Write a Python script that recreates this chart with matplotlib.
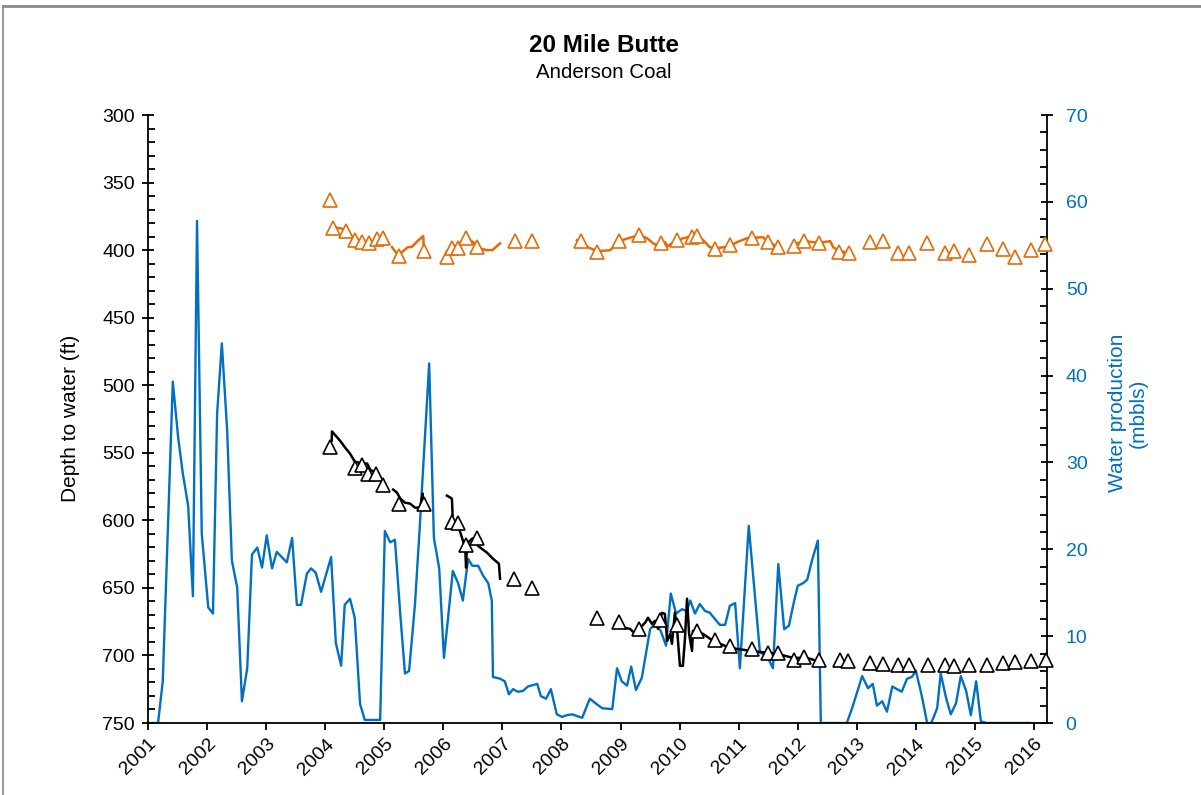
import matplotlib
matplotlib.use("Agg")
import matplotlib.pyplot as plt
from matplotlib.lines import Line2D
from matplotlib.ticker import MultipleLocator
import numpy as np

plt.rcParams['font.family'] = ['Liberation Sans', 'DejaVu Sans']

# ---------------- data ----------------
title = "20 Mile Butte"
subtitle = "Anderson Coal"
year_ticks = list(range(2001, 2017))

# water production (mbbls), right axis
water_year = [2001.03, 2001.17, 2001.25, 2001.42, 2001.51, 2001.59, 2001.68, 2001.76, 2001.83, 2001.91,
              2002.02, 2002.10, 2002.17, 2002.25, 2002.34, 2002.42, 2002.51, 2002.59, 2002.68, 2002.76,
              2002.85, 2002.93, 2003.01, 2003.10, 2003.18, 2003.35, 2003.44, 2003.52, 2003.59, 2003.69,
              2003.76, 2003.84, 2003.93, 2004.10, 2004.18, 2004.27, 2004.33, 2004.42, 2004.50, 2004.59,
              2004.67, 2004.93, 2005.01, 2005.10, 2005.18, 2005.27, 2005.35, 2005.42, 2005.52, 2005.60,
              2005.76, 2005.84, 2005.93, 2006.01, 2006.08, 2006.16, 2006.25, 2006.33, 2006.42, 2006.49,
              2006.59, 2006.67, 2006.76, 2006.82, 2006.84, 2006.96, 2007.04, 2007.11, 2007.18, 2007.26,
              2007.35, 2007.43, 2007.59, 2007.65, 2007.74, 2007.82, 2007.92, 2008.01, 2008.09, 2008.18,
              2008.26, 2008.35, 2008.48, 2008.57, 2008.69, 2008.86, 2008.94, 2009.02, 2009.11, 2009.18,
              2009.26, 2009.36, 2009.50, 2009.58, 2009.68, 2009.77, 2009.85, 2009.94, 2010.04, 2010.12,
              2010.18, 2010.26, 2010.34, 2010.43, 2010.51, 2010.68, 2010.77, 2010.85, 2010.94, 2011.02,
              2011.17, 2011.36, 2011.48, 2011.58, 2011.67, 2011.77, 2011.85, 2011.94, 2012.00, 2012.09,
              2012.16, 2012.24, 2012.34, 2012.39, 2012.43, 2012.83, 2012.92, 2013.09, 2013.19, 2013.27,
              2013.34, 2013.43, 2013.51, 2013.60, 2013.68, 2013.76, 2013.85, 2013.93, 2014.00, 2014.10,
              2014.19, 2014.26, 2014.36, 2014.42, 2014.51, 2014.59, 2014.68, 2014.76, 2014.85, 2014.93,
              2015.02, 2015.10, 2015.19, 2015.93]
water_mbbls = [0.0, 0.0, 4.8, 39.3, 32.9, 28.7, 25.0, 14.6, 57.8, 21.8,
               13.3, 12.6, 35.6, 43.7, 33.7, 18.7, 15.6, 2.5, 6.3, 19.4,
               20.2, 17.9, 21.6, 17.8, 19.7, 18.5, 21.3, 13.6, 13.6, 17.2,
               17.8, 17.3, 15.1, 19.1, 9.2, 6.6, 13.6, 14.3, 12.1, 2.2,
               0.35, 0.35, 22.1, 20.8, 21.1, 12.6, 5.7, 6.0, 13.7, 22.5,
               41.4, 21.3, 17.8, 7.5, 12.1, 17.5, 16.1, 14.1, 18.9, 18.1,
               18.1, 17.0, 16.1, 14.1, 5.3, 5.1, 4.8, 3.3, 3.9, 3.6,
               3.7, 4.2, 4.5, 3.1, 2.8, 3.9, 1.0, 0.7, 0.9, 1.0,
               0.8, 0.6, 2.8, 2.3, 1.7, 1.6, 6.3, 4.8, 4.3, 6.5,
               3.8, 5.2, 10.8, 11.4, 10.6, 8.9, 14.9, 12.6, 13.1, 12.9,
               14.1, 12.6, 13.7, 12.9, 12.7, 11.3, 11.3, 13.5, 13.8, 6.3,
               22.7, 8.1, 7.7, 6.3, 18.3, 10.8, 11.2, 14.1, 15.8, 16.1,
               16.5, 18.7, 21.0, 0.0, 0.0, 0.0, 1.7, 5.4, 4.0, 4.5,
               2.0, 2.5, 1.3, 4.2, 3.9, 3.6, 5.1, 5.3, 6.0, 3.1,
               0.0, 0.0, 1.7, 5.7, 2.9, 1.0, 2.3, 5.4, 3.7, 0.9,
               4.8, 0.2, 0.0, 0.0]

# orange well: manual measurements (triangles)
orange_pt_year = [2004.08, 2004.13, 2004.35, 2004.50, 2004.62, 2004.74, 2004.88, 2004.98, 2005.25, 2005.67,
                  2006.06, 2006.15, 2006.25, 2006.38, 2006.57, 2007.21, 2007.50, 2008.33, 2008.60, 2008.97,
                  2009.31, 2009.68, 2009.96, 2010.21, 2010.29, 2010.60, 2010.85, 2011.23, 2011.50, 2011.67,
                  2011.94, 2012.11, 2012.36, 2012.70, 2012.87, 2013.22, 2013.44, 2013.70, 2013.88, 2014.19,
                  2014.49, 2014.65, 2014.90, 2015.20, 2015.47, 2015.68, 2015.95, 2016.19]
orange_pt_depth = [363.0, 383.8, 386.0, 392.7, 394.1, 394.9, 391.9, 391.2, 404.5, 400.8,
                   405.3, 398.6, 398.6, 391.2, 397.9, 393.4, 393.4, 393.4, 401.6, 393.4,
                   389.0, 394.9, 392.7, 390.4, 389.7, 399.3, 396.4, 391.2, 394.1, 397.9,
                   397.1, 393.4, 394.9, 401.6, 402.3, 394.1, 393.4, 402.3, 402.3, 394.9,
                   402.3, 400.8, 403.8, 395.6, 399.3, 405.3, 400.1, 395.6]

# orange well: logger records (line segments)
orange_seg1_year = [2004.13, 2004.25, 2004.32, 2004.39, 2004.47, 2004.59, 2004.67, 2004.76, 2004.88, 2004.98]
orange_seg1_depth = [383.0, 383.8, 384.5, 387.5, 390.4, 394.9, 394.1, 394.9, 393.4, 392.7]
orange_seg2_year = [2005.13, 2005.24, 2005.39, 2005.47, 2005.57, 2005.66, 2005.67]
orange_seg2_depth = [397.8, 404.0, 398.0, 397.5, 393.0, 389.6, 400.0]
orange_seg3_year = [2006.06, 2006.14, 2006.28, 2006.40, 2006.50, 2006.59, 2006.74, 2006.83, 2006.96]
orange_seg3_depth = [402.0, 400.0, 395.0, 391.2, 394.0, 398.6, 400.0, 400.0, 395.0]
orange_seg4_year = [2008.26, 2008.45, 2008.60, 2008.82, 2008.91, 2008.97, 2009.13, 2009.31, 2009.45, 2009.55,
                    2009.67, 2009.75, 2009.80, 2009.92, 2010.06, 2010.29, 2010.40, 2010.51, 2010.63, 2010.85,
                    2010.97, 2011.14, 2011.41, 2011.50, 2011.67]
orange_seg4_depth = [392.7, 397.9, 400.8, 400.1, 396.4, 393.4, 391.2, 389.0, 391.2, 394.9,
                     397.9, 394.1, 397.1, 393.4, 391.2, 389.0, 392.7, 397.9, 398.6, 397.1,
                     394.1, 391.2, 390.4, 394.1, 397.9]
orange_seg5_year = [2011.99, 2012.12, 2012.26, 2012.43, 2012.55, 2012.60, 2012.68, 2012.80]
orange_seg5_depth = [394.9, 393.4, 394.1, 394.1, 393.4, 397.9, 400.1, 401.6]

# black well: manual measurements (triangles)
black_pt_year = [2004.08, 2004.50, 2004.62, 2004.72, 2004.86, 2004.98, 2005.25, 2005.67, 2006.15, 2006.25,
                 2006.38, 2006.57, 2007.20, 2007.50, 2008.60, 2008.97, 2009.31, 2009.67, 2009.96, 2010.29,
                 2010.60, 2010.85, 2011.23, 2011.50, 2011.67, 2011.94, 2012.11, 2012.36, 2012.72, 2012.85,
                 2013.22, 2013.44, 2013.70, 2013.88, 2014.20, 2014.49, 2014.64, 2014.90, 2015.20, 2015.47,
                 2015.68, 2015.95, 2016.20]
black_pt_depth = [545.4, 561.0, 558.7, 565.4, 565.4, 573.5, 587.6, 587.6, 601.0, 601.7,
                  618.0, 612.8, 643.2, 649.9, 672.1, 675.1, 680.3, 673.6, 677.3, 681.8,
                  688.4, 692.9, 695.1, 698.1, 698.1, 703.3, 701.0, 703.3, 703.3, 704.0,
                  705.5, 706.2, 707.0, 707.0, 707.0, 707.0, 707.7, 707.0, 707.0, 705.5,
                  704.8, 704.0, 703.3]

# black well: logger records (line segments)
black_seg1_year = [2004.11, 2004.115, 2004.25, 2004.335, 2004.42, 2004.50, 2004.62, 2004.71, 2004.76, 2004.84, 2004.93]
black_seg1_depth = [541.0, 534.2, 541.0, 546.0, 550.6, 556.5, 558.0, 558.0, 562.4, 564.6, 568.3]
black_seg2_year = [2005.15, 2005.215, 2005.27, 2005.35, 2005.435, 2005.52, 2005.605, 2005.65, 2005.655]
black_seg2_depth = [577.2, 579.5, 583.9, 586.9, 587.6, 590.6, 590.6, 580.2, 586.9]
black_seg3_year = [2006.06, 2006.145, 2006.16, 2006.25, 2006.315, 2006.37, 2006.385, 2006.40, 2006.485,
                   2006.535, 2006.585, 2006.74, 2006.84, 2006.94, 2006.96]
black_seg3_depth = [581.7, 583.9, 600.2, 603.9, 612.8, 620.2, 635.0, 617.3, 613.6,
                    612.8, 618.8, 624.0, 628.4, 632.1, 643.2]
black_seg4_year = [2008.905, 2009.04, 2009.16, 2009.245, 2009.33, 2009.415, 2009.465, 2009.53, 2009.58,
                   2009.635, 2009.70, 2009.75, 2009.79, 2009.84, 2009.87, 2009.92, 2009.955, 2010.005,
                   2010.055, 2010.09, 2010.125, 2010.16, 2010.21, 2010.225, 2010.395, 2010.565, 2010.85,
                   2011.225, 2011.65, 2011.92, 2012.155, 2012.325, 2012.43]
black_seg4_depth = [676.6, 679.5, 680.3, 684.0, 679.5, 675.8, 672.1, 676.6, 674.4,
                    680.3, 668.4, 669.2, 689.2, 684.0, 691.4, 668.4, 679.5, 707.7,
                    707.7, 687.7, 658.0, 684.0, 696.7, 681.8, 684.0, 689.2, 694.4,
                    696.7, 698.8, 701.8, 701.8, 704.0, 705.5]

# ---------------- style ----------------
ORANGE = "#E36C09"
BLUE = "#0070C0"
BLACK = "#000000"

W, H = 1201, 795
fig = plt.figure(figsize=(W / 100, H / 100), dpi=100)
x0, x1, ytop, ybot = 148, 1047, 115, 723
ax = fig.add_axes([x0 / W, 1 - ybot / H, (x1 - x0) / W, (ybot - ytop) / H])
ax2 = ax.twinx()

# frame around figure (top and left visible)
fig.add_artist(Line2D([3 / W, 3 / W], [0, 1 - 6 / H], color="#8a8a8a", lw=1.2, transform=fig.transFigure))
fig.add_artist(Line2D([3 / W, 1], [1 - 6 / H, 1 - 6 / H], color="#8a8a8a", lw=2.0, transform=fig.transFigure))

# water production
ax2.plot(water_year, water_mbbls, color=BLUE, lw=1.7, zorder=2)

# put left axes on top
ax.set_zorder(ax2.get_zorder() + 1)
ax.patch.set_visible(False)

lw = 1.8
for yy, dd in [(orange_seg1_year, orange_seg1_depth), (orange_seg2_year, orange_seg2_depth),
               (orange_seg3_year, orange_seg3_depth), (orange_seg4_year, orange_seg4_depth),
               (orange_seg5_year, orange_seg5_depth)]:
    ax.plot(yy, dd, color=ORANGE, lw=lw, zorder=3)
for yy, dd in [(black_seg1_year, black_seg1_depth), (black_seg2_year, black_seg2_depth),
               (black_seg3_year, black_seg3_depth), (black_seg4_year, black_seg4_depth)]:
    ax.plot(yy, dd, color=BLACK, lw=lw, zorder=3)

ax.plot(orange_pt_year, orange_pt_depth, ls="none", marker="^", ms=10, mfc="white",
        mec=ORANGE, mew=1.2, zorder=4, clip_on=False)
ax.plot(black_pt_year, black_pt_depth, ls="none", marker="^", ms=10, mfc="white",
        mec=BLACK, mew=1.2, zorder=4, clip_on=False)

# axes limits
ax.set_xlim(2001, 2001 + (x1 - x0) / 59.07)
ax.set_ylim(750, 300)
ax2.set_ylim(0, 70)

# ticks
ax.set_xticks(year_ticks)
ax.set_xticklabels([str(y) for y in year_ticks], rotation=45, ha="right", rotation_mode="anchor")
ax.yaxis.set_major_locator(MultipleLocator(50))
ax.yaxis.set_minor_locator(MultipleLocator(10))
ax2.yaxis.set_major_locator(MultipleLocator(10))
ax2.yaxis.set_minor_locator(MultipleLocator(2))

ax.tick_params(axis="x", which="major", direction="out", length=5, width=1.3, labelsize=14, pad=4)
ax.tick_params(axis="y", which="major", direction="inout", length=9, width=1.3, labelsize=14, pad=5)
ax.tick_params(axis="y", which="minor", direction="in", length=5, width=1.3)
ax2.tick_params(axis="y", which="major", direction="inout", length=9, width=1.3, labelsize=14,
                pad=9, labelcolor=BLUE)
ax2.tick_params(axis="y", which="minor", direction="in", length=5, width=1.3)

for a in (ax, ax2):
    a.spines["top"].set_visible(False)
    for s in ("left", "right", "bottom"):
        a.spines[s].set_linewidth(1.3)
ax.spines["right"].set_visible(False)
ax2.spines["left"].set_visible(False)
ax2.spines["bottom"].set_visible(False)

# labels
fig.text(604 / W, 1 - 45 / H, title, ha="center", va="center", fontsize=17.5, fontweight="bold")
fig.text(604 / W, 1 - 72 / H, subtitle, ha="center", va="center", fontsize=14.8)
fig.text(70 / W, 1 - 418 / H, "Depth to water (ft)", rotation=90, ha="center", va="center", fontsize=15)
fig.text(1128 / W, 1 - 413 / H, "Water production\n(mbbls)", rotation=90, ha="center", va="center",
         fontsize=15, color=BLUE, linespacing=1.15)

fig.savefig("out.png", dpi=100, facecolor="white")
